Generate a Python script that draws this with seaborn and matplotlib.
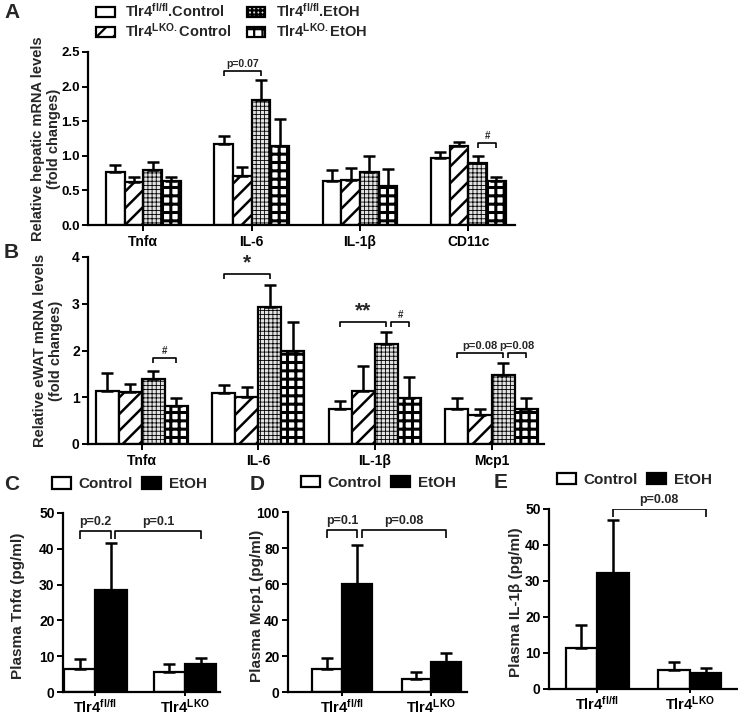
import matplotlib
matplotlib.use("Agg")
import matplotlib.pyplot as plt
from matplotlib.patches import Patch
import pandas as pd
import seaborn as sns

# ── Data ───────────────────────────────────────────────
GROUPS = ["fl/fl Control", "LKO Control", "fl/fl EtOH", "LKO EtOH"]
GROUP_LABELS = [r"Tlr4$^{fl/fl}$.Control", r"Tlr4$^{LKO.}$Control",
                r"Tlr4$^{fl/fl}$.EtOH", r"Tlr4$^{LKO.}$EtOH"]

GENES_A = ["Tnfα", "IL-6", "IL-1β", "CD11c"]
A_MEAN = [[0.77, 1.17, 0.63, 0.97],
          [0.62, 0.71, 0.65, 1.14],
          [0.79, 1.80, 0.77, 0.89],
          [0.635, 1.14, 0.56, 0.63]]
A_ERR = [[0.10, 0.12, 0.16, 0.09],
         [0.07, 0.13, 0.17, 0.06],
         [0.12, 0.29, 0.23, 0.11],
         [0.055, 0.39, 0.25, 0.06]]

GENES_B = ["Tnfα", "IL-6", "IL-1β", "Mcp1"]
B_MEAN = [[1.13, 1.10, 0.74, 0.74],
          [1.11, 1.00, 1.14, 0.63],
          [1.38, 2.93, 2.14, 1.47],
          [0.81, 2.00, 0.99, 0.75]]
B_ERR = [[0.39, 0.16, 0.19, 0.24],
         [0.18, 0.21, 0.53, 0.11],
         [0.19, 0.48, 0.25, 0.27],
         [0.18, 0.61, 0.45, 0.23]]

GENOTYPES = [r"Tlr4$^{fl/fl}$", r"Tlr4$^{LKO}$"]
TREATMENTS = ["Control", "EtOH"]
C_MEAN = [[6.4, 5.7], [28.4, 7.8]]
C_ERR = [[2.8, 2.1], [13.2, 1.6]]
D_MEAN = [[12.7, 7.4], [60.2, 16.5]]
D_ERR = [[6.3, 3.6], [21.7, 5.2]]
E_MEAN = [[11.4, 5.2], [32.2, 4.4]]
E_ERR = [[6.4, 2.4], [14.7, 1.5]]

# brackets: (cat_from, hue_from, cat_to, hue_to, height, label, nudge)
A_BRACKETS = [(1, 0, 1, 2, 2.23, "p=0.07", 0), (3, 2, 3, 3, 1.18, "#", 0)]
B_BRACKETS = [(0, 2, 0, 3, 1.85, "#", 0), (1, 0, 1, 2, 3.64, "*", 0),
              (2, 0, 2, 2, 2.61, "**", 0), (2, 2, 2, 3, 2.61, "#", 0.04),
              (3, 0, 3, 2, 1.94, "p=0.08", 0), (3, 2, 3, 3, 1.94, "p=0.08", 0.04)]
C_BRACKETS = [(0, 0, 0, 1, 45.0, "p=0.2", 0), (0, 1, 1, 1, 45.0, "p=0.1", 0.05)]
D_BRACKETS = [(0, 0, 0, 1, 90.0, "p=0.1", 0), (0, 1, 1, 1, 90.0, "p=0.08", 0.05)]
E_BRACKETS = [(0, 1, 1, 1, 50.0, "p=0.08", 0)]

# ── Style ──────────────────────────────────────────────
sns.set_style("ticks")
plt.rcParams.update({
    "font.family": ["Liberation Sans", "DejaVu Sans"],
    "font.weight": "bold",
    "axes.labelweight": "bold",
    "mathtext.fontset": "custom",
    "mathtext.rm": "Liberation Sans:bold",
    "mathtext.it": "Liberation Sans:bold",
    "mathtext.bf": "Liberation Sans:bold",
    "mathtext.default": "rm",
    "hatch.linewidth": 1.6,
    "axes.linewidth": 1.6,
    "xtick.major.width": 1.4,
    "ytick.major.width": 1.4,
    "xtick.major.size": 4,
    "ytick.major.size": 4,
    "xtick.color": "black",
    "ytick.color": "black",
    "axes.edgecolor": "black",
})

FACE4 = ["white", "white", "#e2e2e2", "white"]
HATCH4 = ["", "//", "++++", "++"]
HATCH_LW4 = [1.6, 1.8, 0.6, 2.2]
FACE2 = ["white", "black"]


def long_frame(cats, groups, means):
    rows = []
    for g, vals in zip(groups, means):
        for c, v in zip(cats, vals):
            rows.append({"cat": c, "grp": g, "val": v})
    return pd.DataFrame(rows)


def draw_bars(ax, cats, groups, means, errs, faces, hatches, width, hatch_lws=None):
    df = long_frame(cats, groups, means)
    sns.barplot(data=df, x="cat", y="val", hue="grp", order=cats,
                hue_order=groups, palette=faces, width=width, saturation=1,
                errorbar=None, edgecolor="black", linewidth=1.6,
                legend=False, ax=ax)
    bar_sets = list(ax.containers)
    for i, cont in enumerate(bar_sets):
        for bar, e in zip(cont, errs[i]):
            bar.set_hatch(hatches[i])
            if hatch_lws is not None and hasattr(bar, "set_hatch_linewidth"):
                bar.set_hatch_linewidth(hatch_lws[i])
            xc = bar.get_x() + bar.get_width() / 2
            ax.errorbar(xc, bar.get_height(), yerr=[[0], [e]], fmt="none",
                        ecolor="black", elinewidth=1.8, capsize=4,
                        capthick=1.8, zorder=1)
    return bar_sets


def bar_x(bar_sets, cat, hue):
    bar = bar_sets[hue][cat]
    return bar.get_x() + bar.get_width() / 2


def draw_brackets(ax, bar_sets, specs, drop, pad, sizes):
    for c1, h1, c2, h2, y, label, nudge in specs:
        x1 = bar_x(bar_sets, c1, h1) + nudge
        x2 = bar_x(bar_sets, c2, h2)
        ax.plot([x1, x1, x2, x2], [y - drop, y, y, y - drop],
                color="black", lw=1.2, solid_capstyle="butt")
        fs = sizes.get(label, sizes["default"])
        ax.text((x1 + x2) / 2, y + pad, label, ha="center", va="bottom",
                fontsize=fs, fontweight="bold")


def style_axis(ax):
    sns.despine(ax=ax)
    ax.set_xlabel("")
    ax.tick_params(axis="both", labelsize=10, direction="out")
    ax.tick_params(axis="y", pad=2)
    for t in ax.get_xticklabels() + ax.get_yticklabels():
        t.set_fontweight("bold")


W, H = 738, 716
fig = plt.figure(figsize=(W / 100, H / 100), dpi=100)


def px_axes(left, top, right, bottom):
    return fig.add_axes([left / W, 1 - bottom / H, (right - left) / W, (bottom - top) / H])


# ── Panel A ────────────────────────────────────────────
axA = px_axes(88, 52, 515, 225)
setsA = draw_bars(axA, GENES_A, GROUPS, A_MEAN, A_ERR, FACE4, HATCH4, 0.69, HATCH_LW4)
axA.set_xlim(-0.51, 3.43)
axA.set_ylim(0, 2.5)
axA.set_yticks([0, 0.5, 1.0, 1.5, 2.0, 2.5])
axA.set_yticklabels(["0.0", "0.5", "1.0", "1.5", "2.0", "2.5"])
axA.set_ylabel("Relative hepatic mRNA levels\n(fold changes)", fontsize=10.5, linespacing=1.15)
axA.yaxis.set_label_coords(-0.064, 0.5)
style_axis(axA)
axA.tick_params(axis="y", labelsize=9.5)
draw_brackets(axA, setsA, A_BRACKETS, 0.07, 0.03, {"#": 7, "default": 7.5})

# ── Panel B ────────────────────────────────────────────
axB = px_axes(88, 257, 544, 444)
setsB = draw_bars(axB, GENES_B, GROUPS, B_MEAN, B_ERR, FACE4, HATCH4, 0.79, HATCH_LW4)
axB.set_xlim(-0.46, 3.45)
axB.set_ylim(0, 4)
axB.set_yticks([0, 1, 2, 3, 4])
axB.set_ylabel("Relative eWAT mRNA levels\n(fold changes)", fontsize=10.5, linespacing=1.15)
axB.yaxis.set_label_coords(-0.055, 0.5)
style_axis(axB)
draw_brackets(axB, setsB, B_BRACKETS, 0.11, 0.04,
              {"#": 7, "*": 15, "**": 15, "default": 8})

handles = [Patch(facecolor=f, edgecolor="black", hatch=h, linewidth=1.6)
           for f, h in zip(FACE4, HATCH4)]
fig.legend(handles, GROUP_LABELS, ncol=2, loc="upper left",
           bbox_to_anchor=(89 / W, 1 + 5 / H), frameon=False, borderpad=0,
           fontsize=10.5, handlelength=1.25, handleheight=0.6,
           handletextpad=0.75, columnspacing=1.0, labelspacing=0.1)

# ── Panels C, D, E ─────────────────────────────────────
small = [
    ("C", (63, 513, 220, 692), C_MEAN, C_ERR, (-0.36, 1.39), 50, [0, 10, 20, 30, 40, 50],
     "Plasma Tnfα (pg/ml)", -0.24, C_BRACKETS, -0.12, 0.70),
    ("D", (288, 512, 467, 692), D_MEAN, D_ERR, (-0.61, 1.40), 100, [0, 20, 40, 60, 80, 100],
     "Plasma Mcp1 (pg/ml)", -0.135, D_BRACKETS, 0.03, 0.67),
    ("E", (549, 509, 738, 689), E_MEAN, E_ERR, (-0.52, 1.52), 50, [0, 10, 20, 30, 40, 50],
     "Plasma IL-1β (pg/ml)", -0.14, E_BRACKETS, 0.0, 0.68),
]
for name, box, means, errs, xlim, ytop, yt, ylab, lab_x, brs, leg_x, width in small:
    ax = px_axes(*box)
    sets = draw_bars(ax, GENOTYPES, TREATMENTS, means, errs, FACE2, ["", ""], width)
    ax.set_xlim(*xlim)
    ax.set_ylim(0, ytop)
    ax.set_yticks(yt)
    ax.set_ylabel(ylab, fontsize=11)
    ax.yaxis.set_label_coords(lab_x, 0.48)
    style_axis(ax)
    ax.tick_params(axis="x", labelsize=10.5, length=3, pad=1)
    draw_brackets(ax, sets, brs, ytop * 0.045, ytop * 0.015, {"default": 9})
    h2 = [Patch(facecolor=f, edgecolor="black", linewidth=1.6) for f in FACE2]
    ax.legend(h2, TREATMENTS, ncol=2, loc="center left",
              bbox_to_anchor=(leg_x, 1.16), frameon=False, borderpad=0,
              fontsize=11, handlelength=1.25, handleheight=0.75,
              handletextpad=0.5, columnspacing=0.6)

# ── Panel letters ──────────────────────────────────────
for letter, x, y in [("A", 4, 13), ("B", 4, 252), ("C", 4, 485), ("D", 250, 485), ("E", 494, 482)]:
    fig.text(x / W, 1 - y / H, letter, fontsize=15, fontweight="bold", va="center")

fig.savefig("out.png", dpi=100)
